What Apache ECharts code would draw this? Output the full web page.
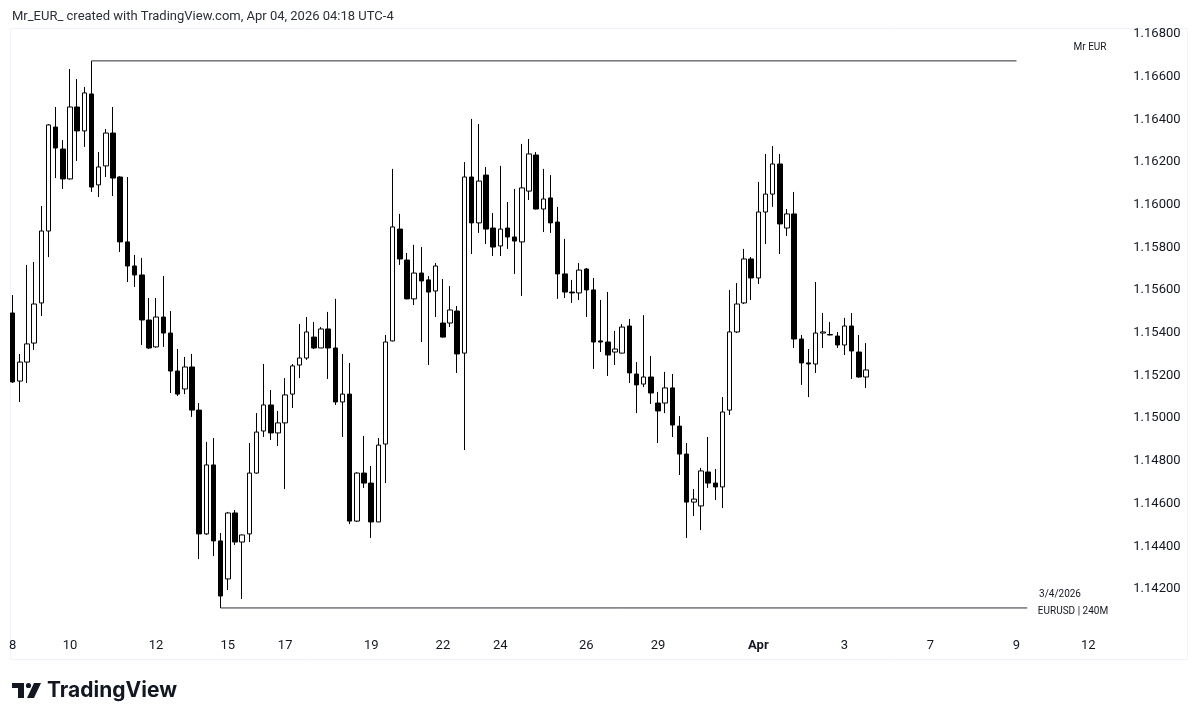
<!DOCTYPE html>
<html>
<head>
<meta charset="utf-8">
<script src="https://cdn.jsdelivr.net/npm/echarts@6/dist/echarts.min.js"></script>
<style>
html,body{margin:0;padding:0;background:#fff;}
#chart{width:1199px;height:722px;}
</style>
</head>
<body>
<div id="chart"></div>
<script>
// EURUSD 4H candles (open, close, low, high)
const opens = [1.15493,1.15174,1.15263,1.15352,1.15540,1.15877,1.16364,1.16261,1.16121,1.16458,
1.16346,1.16519,1.16093,1.16182,1.16336,1.16130,1.15826,1.15713,1.15671,1.15460,
1.15334,1.15474,1.15399,1.15221,1.15137,1.15240,1.15038,1.14458,1.14781,1.14425,
1.14247,1.14556,1.14420,1.14458,1.14743,1.14940,1.15062,1.14931,1.14978,1.15113,
1.15249,1.15282,1.15380,1.15329,1.15418,1.15329,1.15076,1.15113,1.14518,1.14743,
1.14696,1.14514,1.14879,1.15362,1.15886,1.15741,1.15559,1.15680,1.15648,1.15596,
1.15446,1.15446,1.15502,1.15305,1.16130,1.15915,1.16139,1.15891,1.15807,1.15891,
1.15849,1.15826,1.16064,1.16233,1.15980,1.16032,1.15919,1.15676,1.15591,1.15587,
1.15699,1.15601,1.15362,1.15357,1.15310,1.15305,1.15432,1.15207,1.15160,1.15193,
1.15071,1.15071,1.15142,1.14963,1.14832,1.14607,1.14589,1.14748,1.14696,1.14678,
1.15038,1.15404,1.15540,1.15746,1.15657,1.15966,1.16050,1.16191,1.15891,1.15957,
1.15371,1.15259,1.15254,1.15399,1.15392,1.15385,1.15343,1.15432,1.15310,1.15193];
const closes = [1.15170,1.15263,1.15348,1.15535,1.15877,1.16374,1.16266,1.16121,1.16458,1.16346,
1.16524,1.16083,1.16177,1.16336,1.16125,1.15826,1.15713,1.15671,1.15460,1.15329,
1.15474,1.15399,1.15221,1.15113,1.15240,1.15038,1.14458,1.14781,1.14425,1.14167,
1.14556,1.14420,1.14453,1.14743,1.14935,1.15062,1.14931,1.14978,1.15109,1.15245,
1.15282,1.15404,1.15329,1.15418,1.15329,1.15076,1.15113,1.14518,1.14743,1.14696,
1.14514,1.14874,1.15357,1.15896,1.15746,1.15559,1.15680,1.15643,1.15591,1.15713,
1.15380,1.15507,1.15301,1.16130,1.15915,1.16111,1.15886,1.15802,1.15886,1.15849,
1.15830,1.16079,1.16238,1.15980,1.16027,1.15915,1.15676,1.15591,1.15587,1.15694,
1.15601,1.15357,1.15357,1.15296,1.15324,1.15427,1.15212,1.15156,1.15193,1.15118,
1.15034,1.15142,1.14968,1.14832,1.14607,1.14621,1.14753,1.14696,1.14678,1.15029,
1.15404,1.15535,1.15746,1.15657,1.15966,1.16050,1.16191,1.15910,1.15957,1.15371,
1.15259,1.15254,1.15399,1.15404,1.15390,1.15343,1.15432,1.15315,1.15193,1.15226];
const lows = [1.15165,1.15076,1.15165,1.15320,1.15479,1.15755,1.16125,1.16074,1.16118,1.16205,
1.16271,1.16060,1.16036,1.16130,1.16041,1.15779,1.15638,1.15615,1.15343,1.15324,
1.15330,1.15334,1.15118,1.15104,1.15113,1.15006,1.14340,1.14453,1.14354,1.14111,
1.14195,1.14406,1.14153,1.14420,1.14740,1.14912,1.14898,1.14870,1.14668,1.15048,
1.15188,1.15273,1.15324,1.15329,1.15184,1.15062,1.14912,1.14504,1.14514,1.14673,
1.14439,1.14514,1.14696,1.15360,1.15718,1.15557,1.15530,1.15357,1.15249,1.15474,
1.15378,1.15427,1.15212,1.14851,1.15769,1.15868,1.15816,1.15760,1.15760,1.15793,
1.15676,1.15573,1.16022,1.15978,1.15872,1.15868,1.15559,1.15563,1.15540,1.15554,
1.15474,1.15231,1.15310,1.15198,1.15249,1.15303,1.15165,1.15024,1.15146,1.15067,
1.14884,1.15024,1.14912,1.14734,1.14439,1.14542,1.14476,1.14673,1.14617,1.14579,
1.15015,1.15399,1.15535,1.15554,1.15629,1.15816,1.15990,1.15769,1.15854,1.15329,
1.15156,1.15099,1.15212,1.15329,1.15388,1.15329,1.15296,1.15184,1.15190,1.15141];
const highs = [1.15577,1.15301,1.15718,1.15732,1.15994,1.16378,1.16458,1.16303,1.16636,1.16589,
1.16552,1.16674,1.16247,1.16355,1.16458,1.16134,1.16130,1.15765,1.15751,1.15563,
1.15563,1.15666,1.15502,1.15324,1.15287,1.15301,1.15071,1.14889,1.14907,1.14462,
1.14561,1.14570,1.14455,1.14884,1.15024,1.15254,1.15132,1.15034,1.15188,1.15254,
1.15441,1.15474,1.15451,1.15427,1.15498,1.15559,1.15301,1.15259,1.14747,1.14917,
1.14776,1.14907,1.15390,1.16168,1.15957,1.15774,1.15812,1.15802,1.15666,1.15727,
1.15652,1.15619,1.15526,1.16200,1.16402,1.16378,1.16177,1.15961,1.16182,1.16013,
1.16074,1.16285,1.16308,1.16247,1.16168,1.16139,1.15990,1.15840,1.15648,1.15727,
1.15704,1.15657,1.15554,1.15591,1.15409,1.15441,1.15465,1.15263,1.15483,1.15291,
1.15123,1.15217,1.15207,1.15010,1.14884,1.14668,1.14767,1.14912,1.14762,1.15099,
1.15601,1.15633,1.15793,1.15755,1.16107,1.16238,1.16275,1.16238,1.15980,1.16060,
1.15390,1.15324,1.15638,1.15493,1.15451,1.15404,1.15470,1.15493,1.15390,1.15352];

// time axis ticks (category index -> label), total slots incl. empty future space
const totalSlots = 154;
const tickIndex = [0, 8, 20, 30, 38, 50, 60, 68, 80, 90, 104, 116, 128, 140, 150];
const tickText  = ['8','10','12','15','17','19','22','24','26','29','Apr','3','7','9','12'];

// price scale
const priceMin = 1.140, priceMax = 1.169, priceStep = 0.002;

// drawn horizontal levels: [start index, end index]
const highLineSpan = [11, 140];
const lowLineSpan = [29, 141.5];

const categories = [];
for (let i = 0; i < totalSlots; i++) {
  const k = tickIndex.indexOf(i);
  categories.push(k >= 0 ? tickText[k] : '');
}
const candles = opens.map((o, i) => [o, closes[i], lows[i], highs[i]]);
const topLevel = Math.max.apply(null, highs);
const bottomLevel = Math.min.apply(null, lows);

const chart = echarts.init(document.getElementById('chart'), null, {renderer: 'canvas'});
const slotW = 7.17;
const txt = '#131722';
chart.setOption({
  animation: false,
  backgroundColor: '#ffffff',
  textStyle: {fontFamily: 'Roboto'},
  title: {
    text: 'Mr_EUR_ created with TradingView.com, Apr 04, 2026 04:18 UTC-4',
    left: 7, top: 5,
    textStyle: {fontSize: 13, fontWeight: 'normal', color: '#2a2e39', fontFamily: 'Roboto'}
  },
  grid: {left: 9.115, width: slotW * totalSlots, top: 12.65, height: 619, containLabel: false},
  xAxis: [{
    type: 'category',
    data: categories,
    boundaryGap: true,
    axisLine: {show: false},
    axisTick: {show: false},
    splitLine: {show: false},
    axisLabel: {
      interval: 0, margin: 8, color: txt, fontSize: 13, fontFamily: 'Roboto',
      formatter: v => v === 'Apr' ? '{b|Apr}' : v,
      rich: {b: {fontWeight: 'bold', fontSize: 13, color: txt, fontFamily: 'Roboto'}}
    }
  }, {
    type: 'value',
    min: -0.5, max: totalSlots - 0.5,
    show: false
  }],
  yAxis: {
    type: 'value',
    position: 'right',
    min: priceMin, max: priceMax, interval: priceStep,
    axisLine: {show: false},
    axisTick: {show: false},
    splitLine: {show: false},
    axisLabel: {
      margin: 20, align: 'left', color: txt, fontSize: 13, fontFamily: 'Roboto',
      showMinLabel: false, showMaxLabel: false,
      formatter: v => v.toFixed(5)
    }
  },
  series: [{
    type: 'candlestick',
    data: candles,
    barWidth: 5,
    itemStyle: {
      color: '#ffffff', color0: '#000000',
      borderColor: '#000000', borderColor0: '#000000', borderWidth: 1
    }
  }, {
    type: 'line',
    xAxisIndex: 1,
    data: [[highLineSpan[0], topLevel], [highLineSpan[1], topLevel]],
    symbol: 'none',
    lineStyle: {color: '#2a2e39', width: 1}
  }, {
    type: 'line',
    xAxisIndex: 1,
    data: [[lowLineSpan[0], bottomLevel], [lowLineSpan[1], bottomLevel]],
    symbol: 'none',
    lineStyle: {color: '#2a2e39', width: 1}
  }],
  graphic: [
    {type: 'rect', shape: {x: 10.5, y: 28.5, width: 1177, height: 631}, style: {fill: 'none', stroke: '#f0f3fa', lineWidth: 1}, silent: true, z: -1},
    {type: 'text', x: 1090, y: 47, style: {text: 'Mr EUR', fontSize: 10, fill: txt, align: 'center', verticalAlign: 'middle', fontFamily: 'Roboto'}},
    {type: 'text', x: 1060, y: 594, style: {text: '3/4/2026', fontSize: 10, fill: txt, align: 'center', verticalAlign: 'middle', fontFamily: 'Roboto'}},
    {type: 'text', x: 1073, y: 611, style: {text: 'EURUSD | 240M', fontSize: 10, fill: txt, align: 'center', verticalAlign: 'middle', fontFamily: 'Roboto'}},
    // TradingView logo
    {type: 'rect', shape: {x: 12, y: 683, width: 12, height: 5}, style: {fill: txt}},
    {type: 'rect', shape: {x: 18, y: 683, width: 6, height: 15}, style: {fill: txt}},
    {type: 'circle', shape: {cx: 28.5, cy: 685.5, r: 2.6}, style: {fill: txt}},
    {type: 'polygon', shape: {points: [[34, 683], [41, 683], [34, 698], [27, 698]]}, style: {fill: txt}},
    {type: 'text', x: 47, y: 691, style: {text: 'TradingView', fontSize: 21, fontWeight: 'bold', fill: txt, verticalAlign: 'middle', fontFamily: 'Inter'}}
  ]
});
</script>
</body>
</html>
